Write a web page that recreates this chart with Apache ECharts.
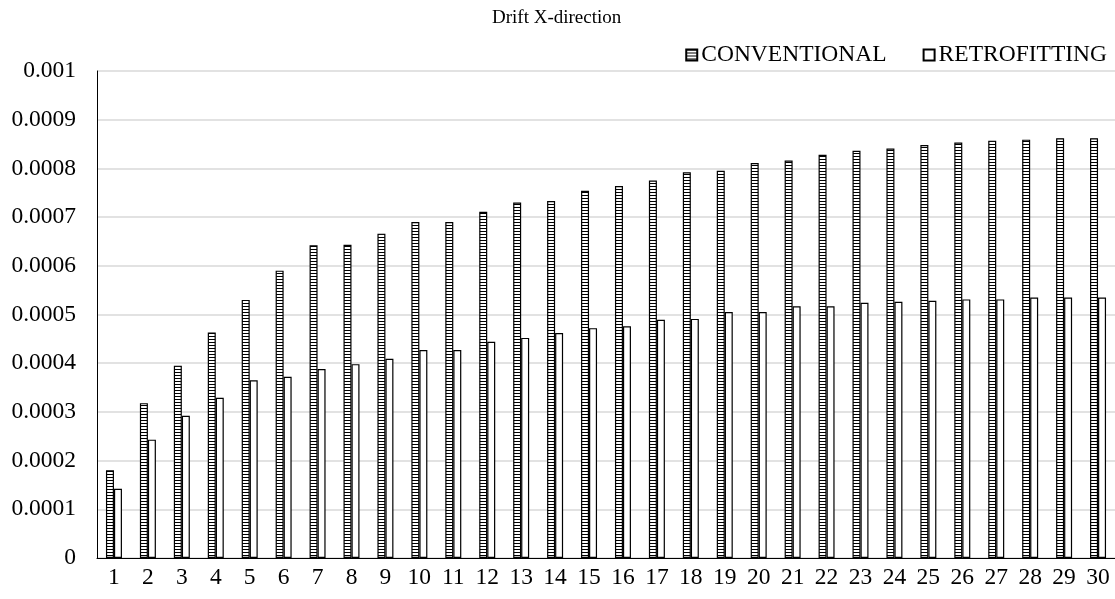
<!DOCTYPE html>
<html>
<head>
<meta charset="utf-8">
<script src="https://cdn.jsdelivr.net/npm/echarts@6/dist/echarts.min.js"></script>
<style>
  html, body { margin: 0; padding: 0; background: #ffffff; }
  #chart { width: 1115px; height: 599px; }
</style>
</head>
<body>
<div id="chart"></div>
<script>
// Storey numbers along the x axis
const categories = ['1','2','3','4','5','6','7','8','9','10','11','12','13','14','15',
  '16','17','18','19','20','21','22','23','24','25','26','27','28','29','30'];

// Inter-storey drift, X direction
const conventional = [0.000180, 0.000318, 0.000395, 0.000463, 0.000530, 0.000590,
  0.000642, 0.000643, 0.000666, 0.000690, 0.000690, 0.000711, 0.000730, 0.000733,
  0.000754, 0.000764, 0.000775, 0.000792, 0.000795, 0.000811, 0.000816, 0.000828,
  0.000836, 0.000841, 0.000848, 0.000853, 0.000857, 0.000859, 0.000862, 0.000862];

const retrofitting = [0.000142, 0.000243, 0.000292, 0.000329, 0.000365, 0.000372,
  0.000388, 0.000398, 0.000409, 0.000427, 0.000427, 0.000444, 0.000452, 0.000462,
  0.000472, 0.000476, 0.000489, 0.000491, 0.000505, 0.000505, 0.000517, 0.000517,
  0.000524, 0.000526, 0.000528, 0.000531, 0.000531, 0.000535, 0.000535, 0.000535];

const seriesNames = ['CONVENTIONAL', 'RETROFITTING'];

// Horizontal "ladder" hatch used to fill the conventional bars
function hatchTile() {
  const c = document.createElement('canvas');
  c.width = 4; c.height = 3;
  const ctx = c.getContext('2d');
  ctx.fillStyle = '#ffffff';
  ctx.fillRect(0, 0, 4, 3);
  ctx.fillStyle = '#000000';
  ctx.fillRect(0, 0, 4, 1);
  return c;
}

const font = '"Liberation Serif", "Times New Roman", serif';
const chart = echarts.init(document.getElementById('chart'), null, { renderer: 'canvas' });

chart.setOption({
  animation: false,
  backgroundColor: '#ffffff',
  title: {
    text: 'Drift X-direction',
    left: 487,
    top: 4,
    textStyle: { fontFamily: font, fontSize: 19, fontWeight: 'normal', color: '#000' }
  },
  legend: {
    right: 3,
    top: 38,
    icon: 'rect',
    itemWidth: 11,
    itemHeight: 11,
    itemGap: 36,
    textStyle: { fontFamily: font, fontSize: 23.5, color: '#000', padding: [0, 0, 0, -1] },
    data: seriesNames
  },
  grid: {
    left: 97,
    top: 71,
    width: 1020,
    bottom: 41,
    containLabel: false
  },
  xAxis: {
    type: 'category',
    data: categories,
    axisLine: { lineStyle: { color: '#000', width: 1 } },
    axisTick: { show: false },
    axisLabel: { fontFamily: font, fontSize: 23.5, color: '#000', margin: 8 }
  },
  yAxis: {
    type: 'value',
    min: 0,
    max: 0.001,
    interval: 0.0001,
    axisLine: { show: true, lineStyle: { color: '#000', width: 1 } },
    axisTick: { show: false },
    splitLine: { lineStyle: { color: '#d9d9d9', width: 1.5 } },
    axisLabel: {
      fontFamily: font, fontSize: 23.5, color: '#000', margin: 21,
      formatter: v => (v === 0 ? '0' : String(parseFloat(v.toPrecision(6))))
    }
  },
  series: [
    {
      name: seriesNames[0],
      type: 'bar',
      data: conventional,
      barWidth: 8,
      barGap: '0%',
      itemStyle: {
        color: { image: hatchTile(), repeat: 'repeat' },
        borderColor: '#000',
        borderWidth: 1.2
      }
    },
    {
      name: seriesNames[1],
      type: 'bar',
      data: retrofitting,
      barWidth: 8,
      barGap: '0%',
      itemStyle: {
        color: '#ffffff',
        borderColor: '#000',
        borderWidth: 1.2
      }
    }
  ]
});
</script>
</body>
</html>
